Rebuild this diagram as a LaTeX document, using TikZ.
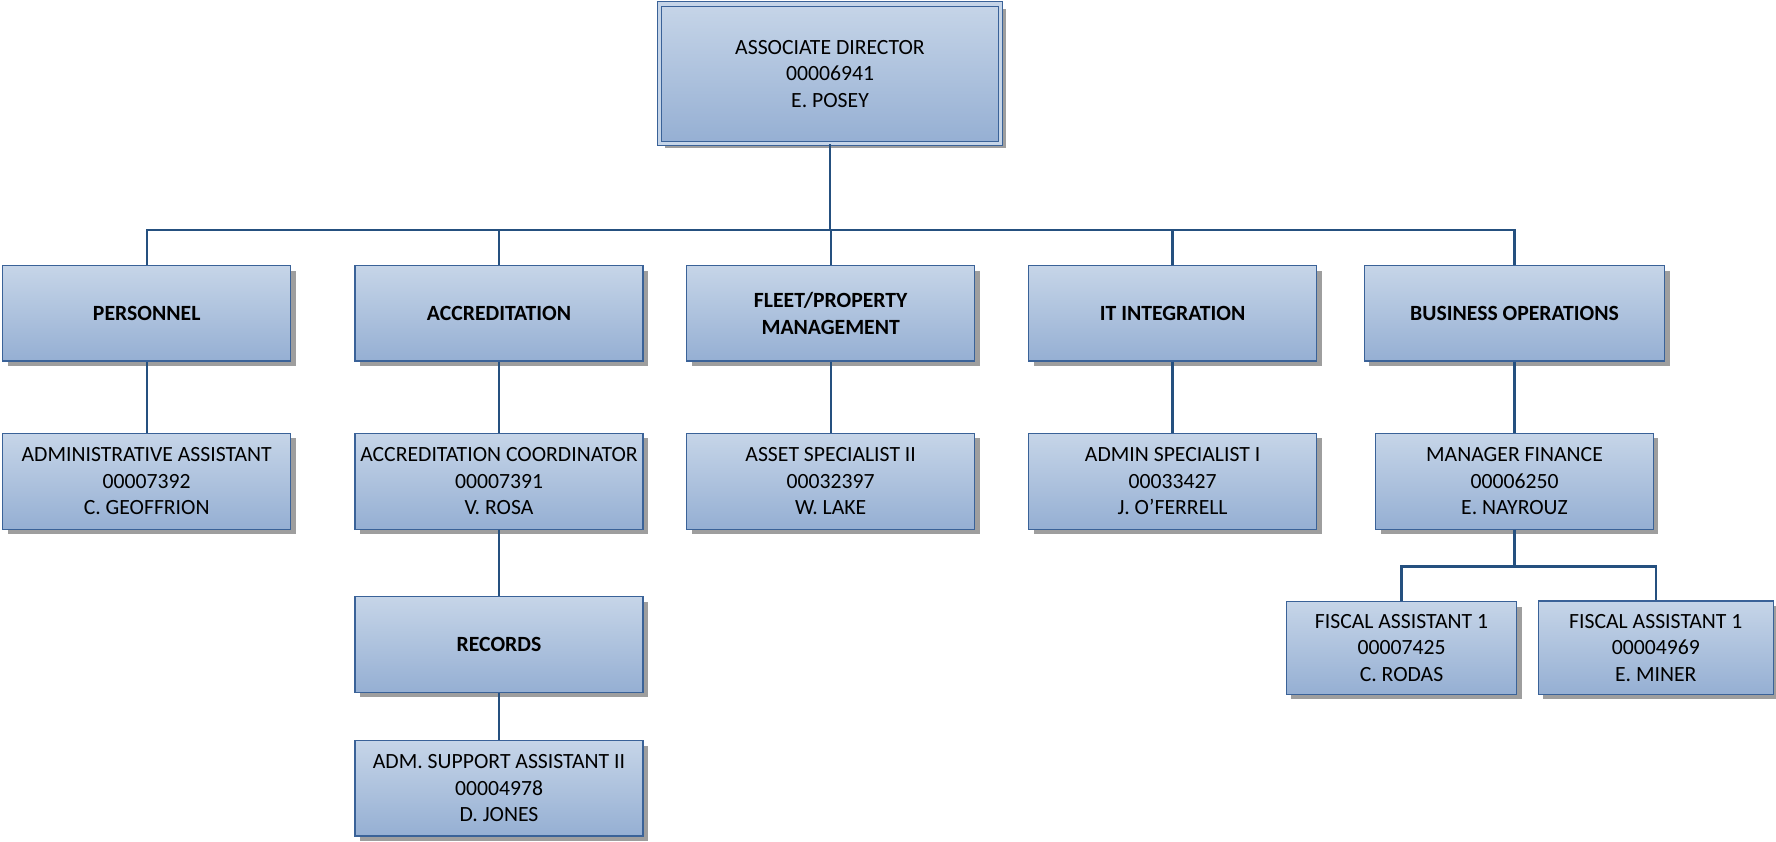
\documentclass[tikz,border=0pt]{standalone}
\usepackage{fontspec}
\setmainfont{Carlito}
\usetikzlibrary{shadows}
\definecolor{boxtop}{HTML}{C6D5E8}
\definecolor{boxbottom}{HTML}{95AFD3}
\definecolor{boxline}{HTML}{3A6298}
\definecolor{linkblue}{HTML}{25507F}
\tikzset{
  orgbox/.style={rectangle, draw=boxline, line width=1.2pt, top color=boxtop, bottom color=boxbottom,
    align=center, inner sep=0pt, minimum width=288pt, minimum height=96pt,
    font=\fontsize{21.7}{26.5}\selectfont,
    drop shadow={shadow xshift=5pt, shadow yshift=-5pt, fill=black!38, opacity=1}},
  unitbox/.style={orgbox, minimum height=95.3pt, font=\fontsize{21.7}{26.5}\selectfont\bfseries},
  headbox/.style={orgbox, double=boxtop, double distance=3.3pt, minimum width=341pt, minimum height=139.5pt},
  link/.style={draw=linkblue, line width=2.4pt},
}
\begin{document}
\begin{tikzpicture}[x=1pt,y=-1pt]
			\useasboundingbox (0,0) rectangle (1776,842);
			
			\node[headbox] (head) at (830,73.7) {ASSOCIATE DIRECTOR\\00006941\\E. POSEY};
			
			\node[unitbox] (pers) at (146.7,313.4) {PERSONNEL};
			\node[unitbox] (accr) at (499,313.4) {ACCREDITATION};
			\node[unitbox] (fleet) at (830.7,313.4) {FLEET/PROPERTY\\MANAGEMENT};
			\node[unitbox] (itint) at (1172.6,313.4) {IT INTEGRATION};
			\node[unitbox, minimum width=300.4pt] (busops) at (1514.5,313.4) {BUSINESS OPERATIONS};
			
			\node[orgbox] (admasst) at (146.7,481.3) {ADMINISTRATIVE ASSISTANT\\00007392\\C. GEOFFRION};
			\node[orgbox] (coord) at (499,481.3) {ACCREDITATION COORDINATOR\\00007391\\V. ROSA};
			\node[orgbox] (asset) at (830.7,481.3) {ASSET SPECIALIST II\\00032397\\W. LAKE};
			\node[orgbox] (admspec) at (1172.6,481.3) {ADMIN SPECIALIST I\\00033427\\J. O’FERRELL};
			\node[orgbox, minimum width=277.6pt] (finmgr) at (1514.5,481.3) {MANAGER FINANCE\\00006250\\E. NAYROUZ};
			
			\node[unitbox, minimum height=95.6pt] (records) at (499,644.5) {RECORDS};
			\node[orgbox, minimum height=95.3pt] (support) at (499,788.4) {ADM. SUPPORT ASSISTANT II\\00004978\\D. JONES};
			
			\node[orgbox, minimum width=230.4pt, minimum height=92.6pt] (fiscal1) at (1401.5,648) {FISCAL ASSISTANT 1\\00007425\\C. RODAS};
			\node[orgbox, minimum width=235pt, minimum height=93.3pt] (fiscal2) at (1655.8,647.7) {FISCAL ASSISTANT 1\\00004969\\E. MINER};
			
			\draw[link] (head.south) -- ++(0,85.9) coordinate (hub);
			\draw[link] (pers.north) |- (hub) -| (busops.north);
			\foreach \n in {accr,fleet,itint}
				\draw[link] (\n.north) -- (\n.north |- hub);
			
			\draw[link] (pers.south) -- (admasst.north);
			\draw[link] (accr.south) -- (coord.north);
			\draw[link] (fleet.south) -- (asset.north);
			\draw[link] (itint.south) -- (admspec.north);
			\draw[link] (busops.south) -- (finmgr.north);
			\draw[link] (coord.south) -- (records.north);
			\draw[link] (records.south) -- (support.north);
			
			\draw[link] (finmgr.south) -- ++(0,36.7) coordinate (finhub);
			\draw[link] (fiscal1.north) |- (finhub) -| (fiscal2.north);
\end{tikzpicture}
\end{document}
